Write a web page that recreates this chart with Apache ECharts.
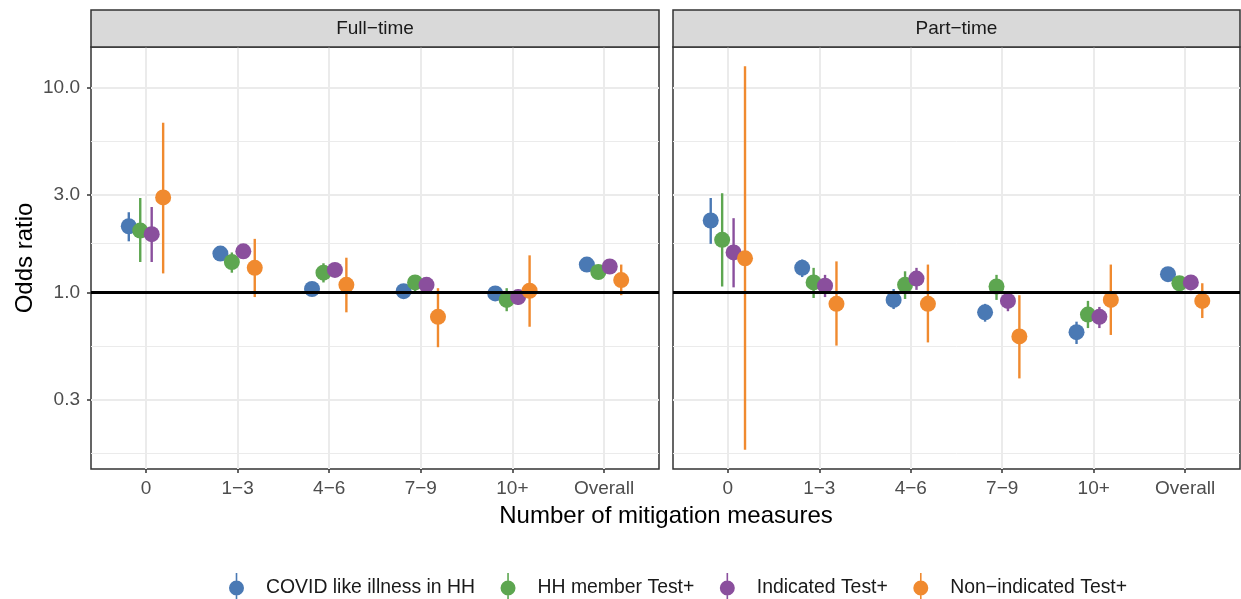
<!DOCTYPE html>
<html>
<head>
<meta charset="utf-8">
<script src="https://cdn.jsdelivr.net/npm/echarts@6/dist/echarts.min.js"></script>
<style>
html,body{margin:0;padding:0;background:#fff;}
#chart{width:1241px;height:599px;}
</style>
</head>
<body>
<div id="chart"></div>
<script>
const categories = ['0', '1\u22123', '4\u22126', '7\u22129', '10+', 'Overall'];
const facets = ['Full\u2212time', 'Part\u2212time'];
const groups = ['COVID like illness in HH', 'HH member Test+', 'Indicated Test+', 'Non\u2212indicated Test+'];
const yTickValues = [0.3, 1, 3, 10];

// [odds ratio, lower CI, upper CI] per category
const fullCovid      = [[2.11,1.78,2.47],[1.55,1.46,1.65],[1.04,0.98,1.10],[1.015,0.96,1.07],[0.99,0.94,1.04],[1.37,1.30,1.44]];
const fullHHTest     = [[2.01,1.41,2.90],[1.41,1.25,1.57],[1.25,1.12,1.39],[1.12,1.01,1.21],[0.92,0.81,1.05],[1.26,1.19,1.32]];
const fullIndicated  = [[1.93,1.41,2.62],[1.59,1.49,1.70],[1.29,1.21,1.36],[1.09,1.04,1.15],[0.95,0.87,1.03],[1.34,1.27,1.40]];
const fullNonInd     = [[2.92,1.24,6.77],[1.32,0.95,1.83],[1.09,0.80,1.48],[0.76,0.54,1.05],[1.02,0.68,1.52],[1.15,0.97,1.37]];
const partCovid      = [[2.25,1.73,2.90],[1.32,1.19,1.45],[0.92,0.83,1.04],[0.80,0.72,0.88],[0.64,0.56,0.72],[1.23,1.17,1.30]];
const partHHTest     = [[1.81,1.07,3.06],[1.12,0.94,1.32],[1.09,0.93,1.27],[1.07,0.92,1.22],[0.78,0.67,0.91],[1.11,1.05,1.17]];
const partIndicated  = [[1.57,1.06,2.31],[1.08,0.95,1.22],[1.17,1.03,1.32],[0.91,0.81,0.98],[0.76,0.67,0.85],[1.12,1.06,1.18]];
const partNonInd     = [[1.47,0.17,12.8],[0.88,0.55,1.42],[0.88,0.57,1.37],[0.61,0.38,0.97],[0.92,0.62,1.37],[0.91,0.75,1.11]];

const facetData = [
  [fullCovid, fullHHTest, fullIndicated, fullNonInd],
  [partCovid, partHHTest, partIndicated, partNonInd]
];
const colors = ['#4a79b4', '#5da650', '#8a4f9d', '#f08a2f'];
const dodge = [-0.1875, -0.0625, 0.0625, 0.1875];
const FONT = '"Liberation Sans", Arial, Helvetica, sans-serif';

const lg = Math.log10;
// y range (log10 space) with ggplot-like 5% expansion
let lo = Infinity, hi = -Infinity;
facetData.forEach(f => f.forEach(s => s.forEach(r => { lo = Math.min(lo, lg(r[1])); hi = Math.max(hi, lg(r[2])); })));
const span = hi - lo;
const YMIN = lo - 0.05 * span, YMAX = hi + 0.05 * span;
const majorLog = yTickValues.map(lg);
const step = majorLog[1] - majorLog[0];
const ext = [majorLog[0] - step].concat(majorLog);
const minorLog = [];
for (let i = 0; i < ext.length - 1; i++) minorLog.push((ext[i] + ext[i + 1]) / 2);
const minorIn = minorLog.filter(v => v > YMIN && v < YMAX);

const catIdx = categories.map((c, i) => i);
const grids = [
  {left: 91, top: 47, width: 568, height: 422},
  {left: 673, top: 47, width: 567, height: 422}
].map(g => Object.assign(g, {show: true, borderColor: '#333333', borderWidth: 1.5, backgroundColor: '#fff', containLabel: false}));

const xAxes = [0, 1].map(i => ({
  type: 'value', gridIndex: i, min: -0.6, max: 5.6, position: 'bottom',
  axisLine: {show: false, onZero: false},
  axisTick: {show: true, customValues: catIdx, length: 4, lineStyle: {color: '#333333', width: 1.5}},
  axisLabel: {customValues: catIdx, formatter: v => categories[Math.round(v)], fontSize: 19, color: '#4d4d4d', fontFamily: FONT, margin: 10},
  splitLine: {show: true, lineStyle: {color: '#ebebeb', width: 2}}
}));

const yAxes = [];
[0, 1].forEach(i => {
  yAxes.push({
    type: 'value', gridIndex: i, min: YMIN, max: YMAX, position: 'left',
    axisLine: {show: false, onZero: false},
    axisTick: {show: i === 0, customValues: majorLog, length: 4, lineStyle: {color: '#333333', width: 1.5}},
    axisLabel: {show: i === 0, customValues: majorLog, formatter: v => Math.pow(10, v).toFixed(1), fontSize: 19, color: '#4d4d4d', fontFamily: FONT, margin: 11},
    splitLine: {show: true, lineStyle: {color: '#ebebeb', width: 2}}
  });
});
[0, 1].forEach(i => {
  yAxes.push({
    type: 'value', gridIndex: i, min: YMIN, max: YMAX, position: 'left',
    axisLine: {show: false, onZero: false},
    axisTick: {show: false, customValues: minorIn},
    axisLabel: {show: false, customValues: minorIn},
    splitLine: {show: true, lineStyle: {color: '#ebebeb', width: 1}}
  });
});

const series = [];
[0, 1].forEach(f => {
  // reference line at OR = 1
  series.push({
    type: 'line', xAxisIndex: f, yAxisIndex: f, data: [], silent: true, z: 1,
    markLine: {silent: true, symbol: 'none', label: {show: false},
      lineStyle: {color: '#000', width: 3, type: 'solid'}, data: [{yAxis: 0}], animation: false}
  });
  facetData[f].forEach((rows, g) => {
    series.push({
      type: 'custom', name: groups[g], xAxisIndex: f, yAxisIndex: f, z: 2,
      itemStyle: {color: colors[g]},
      encode: {x: 0, y: [1, 2]},
      data: rows.map((r, c) => [c + dodge[g], lg(r[1]), lg(r[2])]),
      renderItem: (params, api) => {
        const a = api.coord([api.value(0), api.value(1)]);
        const b = api.coord([api.value(0), api.value(2)]);
        return {type: 'line', shape: {x1: a[0], y1: a[1], x2: b[0], y2: b[1]},
          style: {stroke: colors[g], lineWidth: 2.4}};
      }
    });
  });
  facetData[f].forEach((rows, g) => {
    series.push({
      type: 'scatter', name: groups[g], xAxisIndex: f, yAxisIndex: f, z: 3,
      symbol: 'circle', symbolSize: 16,
      itemStyle: {color: colors[g], opacity: 1},
      data: rows.map((r, c) => [c + dodge[g], lg(r[0])])
    });
  });
});

const legendIcon = 'path://M7.2,0L8.8,0L8.8,30L7.2,30Z M8,7.5A7.5,7.5,0,1,1,7.99,7.5Z';

const graphics = [];
grids.forEach((g, i) => {
  graphics.push({type: 'rect', shape: {x: g.left, y: 10, width: g.width, height: 37},
    style: {fill: '#d9d9d9', stroke: '#333333', lineWidth: 1.5}, z: 10});
  graphics.push({type: 'text', x: g.left + g.width / 2, y: 29,
    style: {text: facets[i], font: '19px ' + FONT, fill: '#1a1a1a', align: 'center', verticalAlign: 'middle'}, z: 11});
});
graphics.push({type: 'text', x: 666, y: 516,
  style: {text: 'Number of mitigation measures', font: '24px ' + FONT, fill: '#000', align: 'center', verticalAlign: 'middle'}});
graphics.push({type: 'text', x: 25, y: 258, rotation: Math.PI / 2,
  style: {text: 'Odds ratio', font: '24px ' + FONT, fill: '#000', align: 'center', verticalAlign: 'middle'}});

const chart = echarts.init(document.getElementById('chart'), null, {renderer: 'canvas'});
chart.setOption({
  animation: false,
  backgroundColor: '#fff',
  grid: grids,
  xAxis: xAxes,
  yAxis: yAxes,
  legend: {
    data: groups.map(n => ({name: n, icon: legendIcon})),
    left: 224, top: 568, itemWidth: 15, itemHeight: 30, itemGap: 25.5,
    textStyle: {fontSize: 19.4, color: '#1a1a1a', fontFamily: FONT, padding: [0, 0, 0, 17]},
    selectedMode: false
  },
  graphic: graphics,
  series: series
});
</script>
</body>
</html>
